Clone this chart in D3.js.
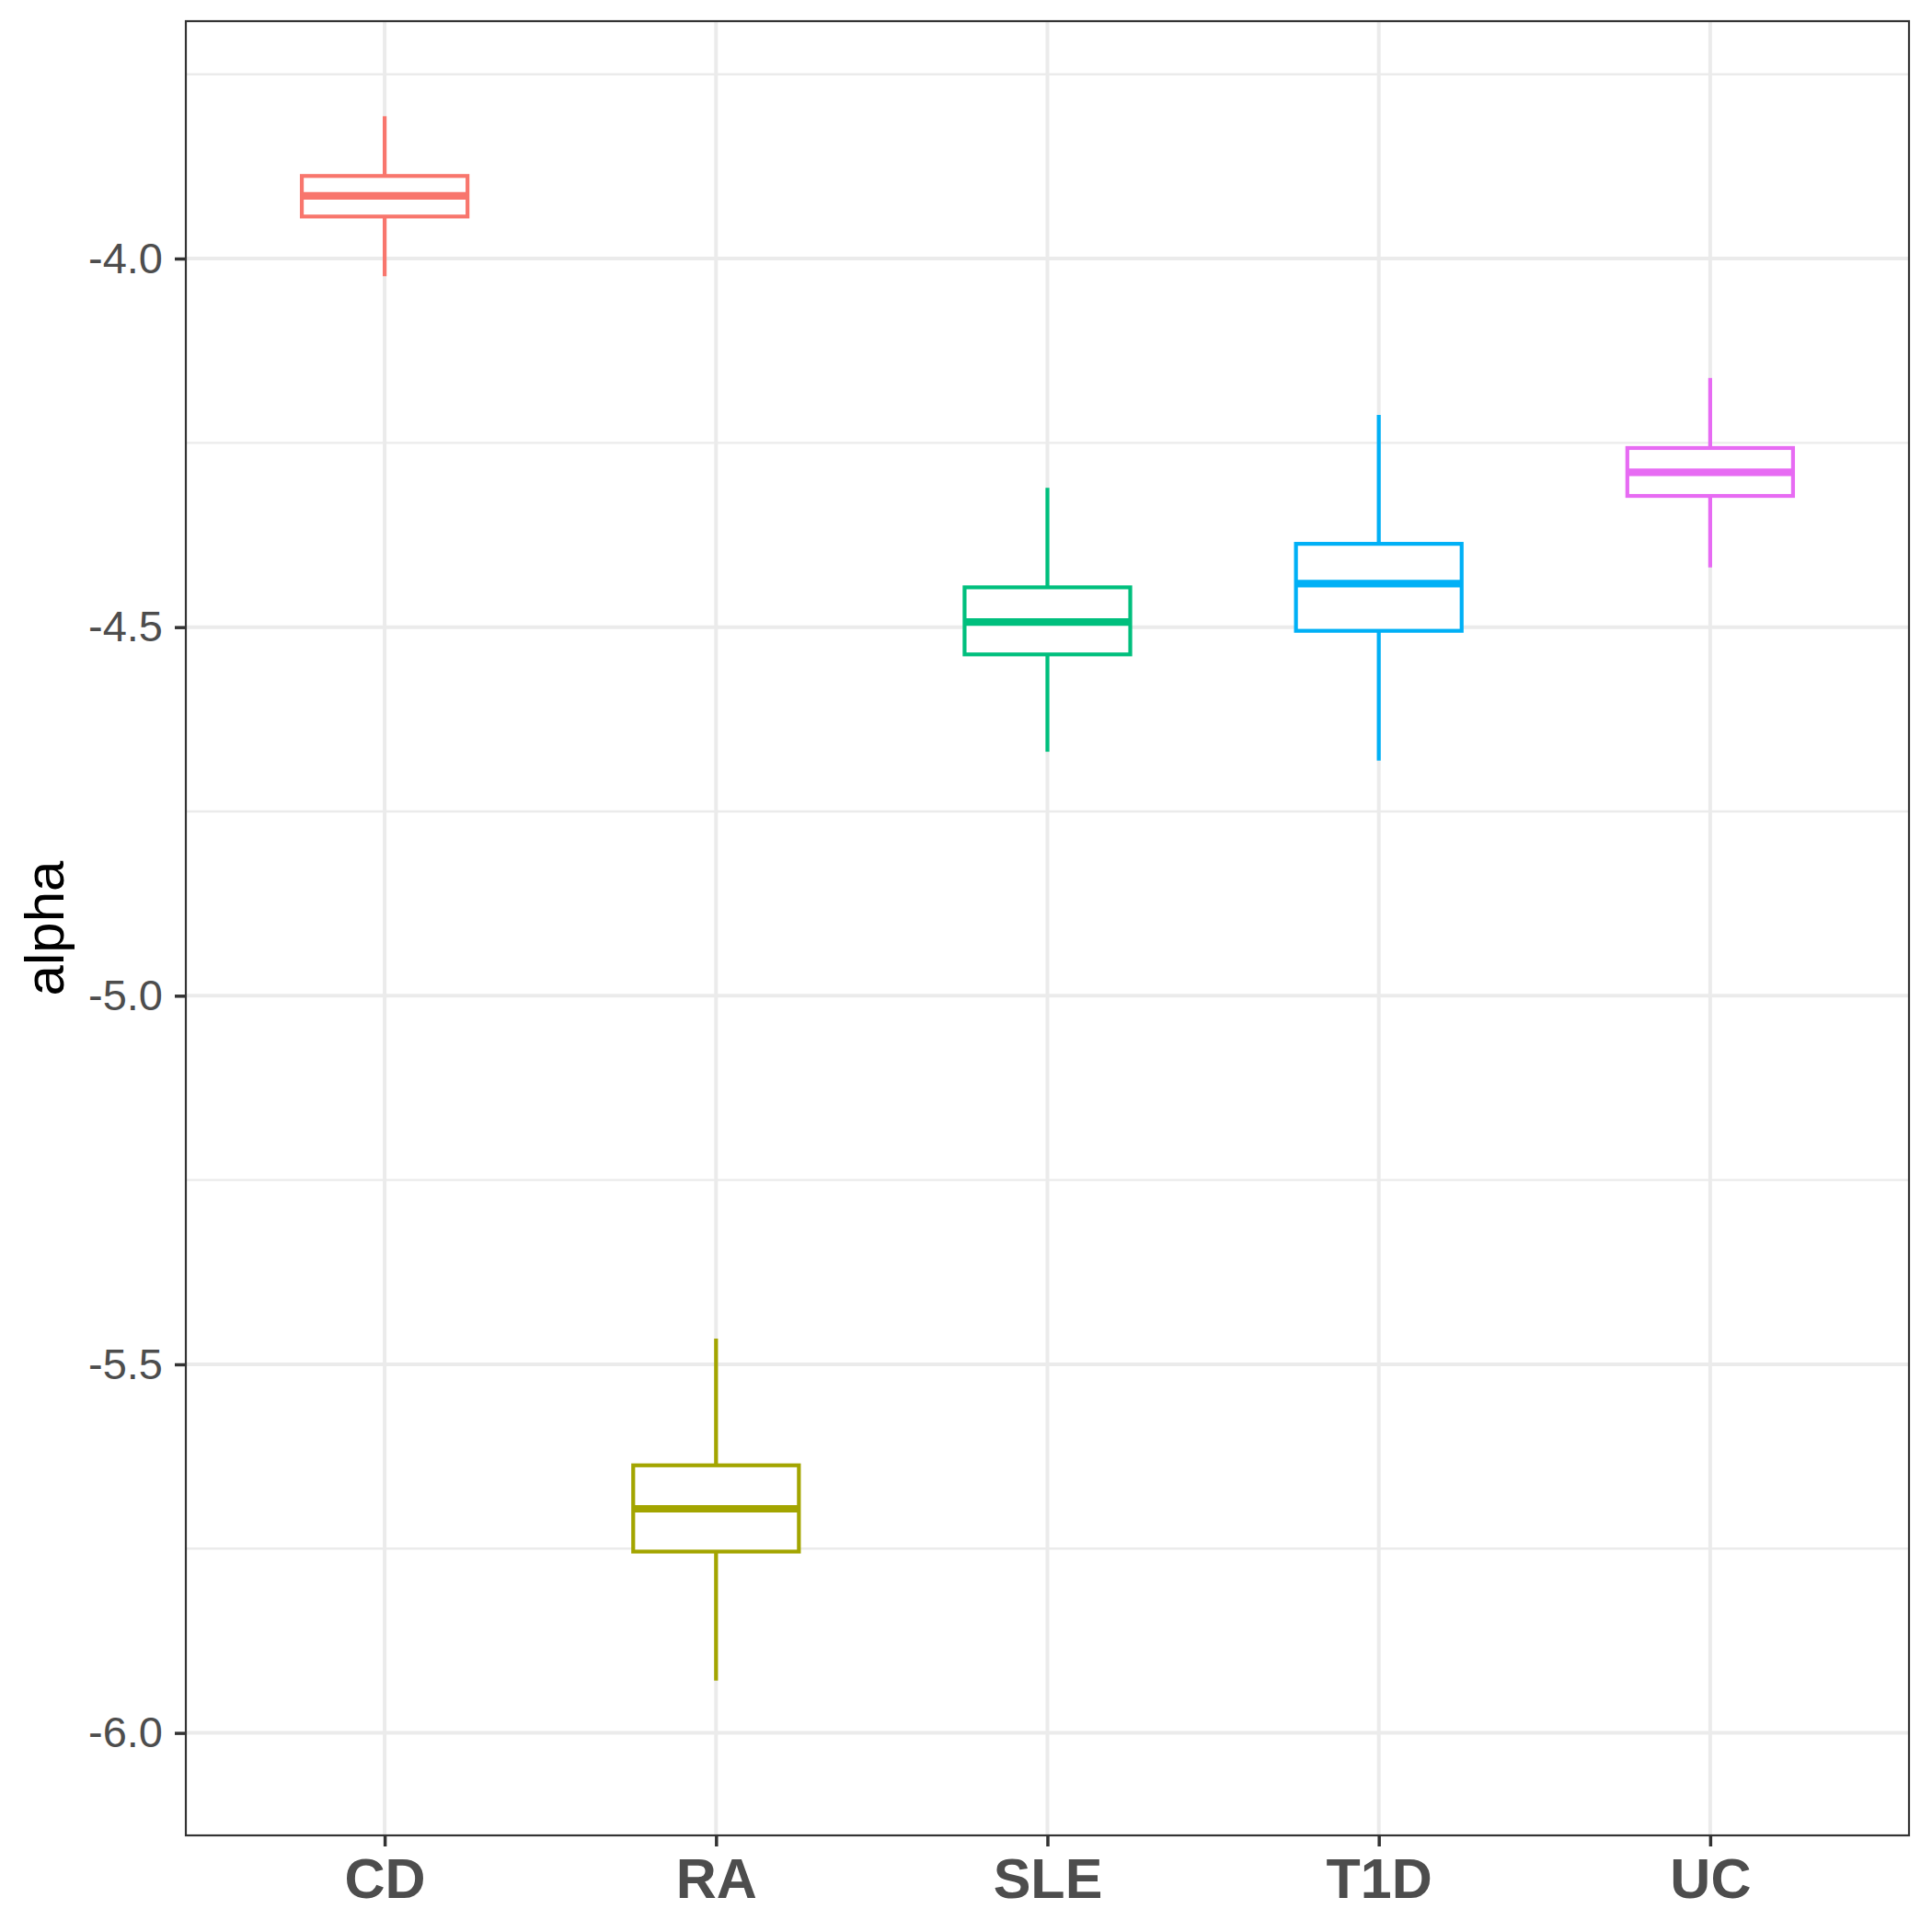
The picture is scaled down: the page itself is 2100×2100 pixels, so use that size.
<!DOCTYPE html>
<html>
<head>
<meta charset="utf-8">
<script src="https://cdn.jsdelivr.net/npm/d3@7"></script>
<style>
  body { margin: 0; background: #fff; }
  svg { display: block; }
</style>
</head>
<body>
<svg id="chart" width="2100" height="2100"></svg>
<script>
// datos
const categorias = ["CD", "RA", "SLE", "T1D", "UC"];
const bigoteInf = [-4.024, -5.929, -4.669, -4.681, -4.419];
const q1 = [-3.943, -5.754, -4.537, -4.505, -4.322];
const mediana = [-3.915, -5.696, -4.493, -4.441, -4.290];
const q3 = [-3.888, -5.637, -4.446, -4.387, -4.257];
const bigoteSup = [-3.807, -5.465, -4.311, -4.212, -4.162];
const colores = ["#F8766D", "#A3A500", "#00BF7D", "#00B0F6", "#E76BF3"];
const ticksMayores = [-6.0, -5.5, -5.0, -4.5, -4.0];
const ticksMenores = [-5.75, -5.25, -4.75, -4.25, -3.75];
const tituloY = "alpha";

const panel = { izq: 202, der: 2075, arriba: 23, abajo: 1995 };
const fuente = "'Liberation Sans', Arial, Helvetica, sans-serif";

const svg = d3.select("#chart");
svg.append("rect").attr("width", 2100).attr("height", 2100).attr("fill", "#fff");

const x = d3.scalePoint()
    .domain(categorias)
    .range([panel.izq, panel.der])
    .padding(0.6);

const y = d3.scaleLinear()
    .domain([-6.139, -3.678])
    .range([panel.abajo, panel.arriba]);

// rejilla
const rejilla = svg.append("g");
rejilla.selectAll(".menor").data(ticksMenores).enter().append("line")
    .attr("x1", panel.izq).attr("x2", panel.der)
    .attr("y1", d => y(d)).attr("y2", d => y(d))
    .attr("stroke", "#EBEBEB").attr("stroke-width", 2.4);
rejilla.selectAll(".mayor").data(ticksMayores).enter().append("line")
    .attr("x1", panel.izq).attr("x2", panel.der)
    .attr("y1", d => y(d)).attr("y2", d => y(d))
    .attr("stroke", "#EBEBEB").attr("stroke-width", 4);
rejilla.selectAll(".vert").data(categorias).enter().append("line")
    .attr("x1", d => x(d)).attr("x2", d => x(d))
    .attr("y1", panel.arriba).attr("y2", panel.abajo)
    .attr("stroke", "#EBEBEB").attr("stroke-width", 4);

// cajas
const ancho = x.step() * 0.5;
const datos = categorias.map((c, i) => ({
    cat: c, lo: bigoteInf[i], q1: q1[i], med: mediana[i], q3: q3[i], hi: bigoteSup[i], color: colores[i]
}));

const cajas = svg.selectAll(".caja").data(datos).enter().append("g");
cajas.append("line")
    .attr("x1", d => x(d.cat)).attr("x2", d => x(d.cat))
    .attr("y1", d => y(d.hi)).attr("y2", d => y(d.q3))
    .attr("stroke", d => d.color).attr("stroke-width", 4.2);
cajas.append("line")
    .attr("x1", d => x(d.cat)).attr("x2", d => x(d.cat))
    .attr("y1", d => y(d.q1)).attr("y2", d => y(d.lo))
    .attr("stroke", d => d.color).attr("stroke-width", 4.2);
cajas.append("rect")
    .attr("x", d => x(d.cat) - ancho / 2)
    .attr("width", ancho)
    .attr("y", d => y(d.q3))
    .attr("height", d => y(d.q1) - y(d.q3))
    .attr("fill", "#fff")
    .attr("stroke", d => d.color).attr("stroke-width", 4.2);
cajas.append("line")
    .attr("x1", d => x(d.cat) - ancho / 2).attr("x2", d => x(d.cat) + ancho / 2)
    .attr("y1", d => y(d.med)).attr("y2", d => y(d.med))
    .attr("stroke", d => d.color).attr("stroke-width", 8.2);

// borde del panel
svg.append("rect")
    .attr("x", panel.izq).attr("y", panel.arriba)
    .attr("width", panel.der - panel.izq).attr("height", panel.abajo - panel.arriba)
    .attr("fill", "none").attr("stroke", "#333333").attr("stroke-width", 2.2);

// ejes
const ejeY = svg.append("g")
    .attr("transform", `translate(${panel.izq},0)`)
    .call(d3.axisLeft(y).tickValues(ticksMayores).tickSize(12).tickPadding(13)
        .tickFormat(d => d.toFixed(1)));
ejeY.select(".domain").remove();
ejeY.selectAll("line").attr("stroke", "#333333").attr("stroke-width", 3.5);
ejeY.selectAll("text")
    .attr("fill", "#4D4D4D").attr("font-family", fuente).attr("font-size", 47);

const ejeX = svg.append("g")
    .attr("transform", `translate(0,${panel.abajo})`)
    .call(d3.axisBottom(x).tickSize(12).tickPadding(13));
ejeX.select(".domain").remove();
ejeX.selectAll("line").attr("stroke", "#333333").attr("stroke-width", 3.5);
ejeX.selectAll("text")
    .attr("fill", "#4D4D4D").attr("font-family", fuente)
    .attr("font-size", 61).attr("font-weight", "bold");

svg.append("text")
    .attr("transform", `translate(69,${(panel.arriba + panel.abajo) / 2}) rotate(-90)`)
    .attr("text-anchor", "middle")
    .attr("font-family", fuente).attr("font-size", 60)
    .attr("fill", "#000")
    .text(tituloY);
</script>
</body>
</html>
